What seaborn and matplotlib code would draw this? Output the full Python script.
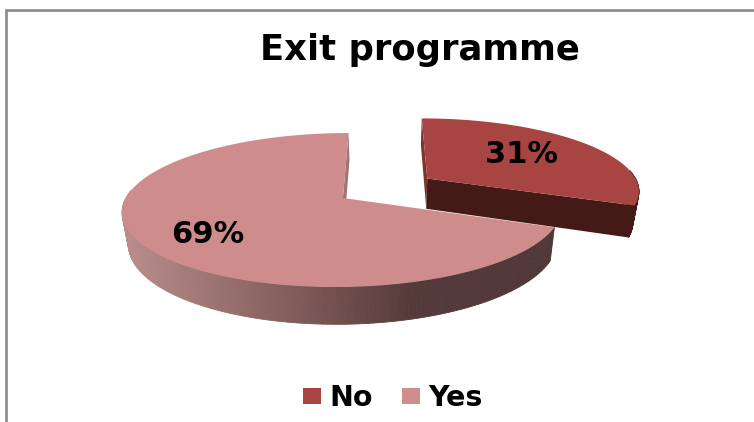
import numpy as np
import matplotlib
matplotlib.use("Agg")
import matplotlib.pyplot as plt
from matplotlib.path import Path
from matplotlib.transforms import Transform
import seaborn as sns

title = "Exit programme"
categories = ["No", "Yes"]
shares = [31, 69]
top_colors = ["#A84442", "#CE8D8C"]
no_wall_color = "#431A16"
no_side_color = "#7A3432"
yes_side_color = "#A07472"
yes_wall_ramp = ["#B98E8C", "#8A6361", "#553A3A", "#503838"]

# Camera model for the tilted pie
VANISH_X, APEX_Y = 385.0, 198.0
SCALE_X, SCALE_Y = 217.0, 75.1
DEPTH, THICKNESS, BOTTOM_SHRINK = 0.156, 31.5, 0.025


def project(x, y, z=0.0):
    """Map disc coordinates (and height below the top face) to pixels."""
    x, y = np.asarray(x, float), np.asarray(y, float)
    w = 1 + DEPTH * y
    px = VANISH_X + SCALE_X * x / (w * (1 + BOTTOM_SHRINK * z))
    py = APEX_Y - SCALE_Y * y / w + THICKNESS * z / w
    return px, py


class Tilt(Transform):
    input_dims = output_dims = 2

    def transform_non_affine(self, values):
        px, py = project(values[:, 0], values[:, 1])
        return np.column_stack([px, py])

    def transform_path_non_affine(self, path):
        # Flatten the curves first: a projective map does not preserve Beziers
        ts = np.linspace(0, 1, 32)
        points = [segment(ts) for segment, _ in path.iter_bezier()]
        return Path(self.transform_non_affine(np.vstack(points)))


sns.set_theme(style="white")
fig = plt.figure(figsize=(7.54, 4.22), dpi=100)
ax = fig.add_axes([0, 0, 1, 1])

wedges, _, pct_texts = ax.pie(
    shares,
    explode=[0.48, 0],
    colors=sns.color_palette(top_colors),
    startangle=90,
    counterclock=False,
    center=(-0.194, 0),
    autopct="%1.0f%%",
    pctdistance=0.6,
    wedgeprops={"linewidth": 0},
    textprops={"fontsize": 22, "fontweight": "bold", "color": "black"},
)
ax.set_aspect("auto")
ax.set_xlim(0, 754)
ax.set_ylim(422, 0)
ax.axis("off")

tilt = Tilt() + ax.transData
for wedge in wedges:
    wedge.set_transform(tilt)
for text in pct_texts:
    text.set_transform(tilt)
pct_texts[0].set_position((0.69, 0.63))
pct_texts[1].set_position((-0.76, -0.457))


def rim(wedge, theta, z):
    x = wedge.center[0] + wedge.r * np.cos(np.radians(theta))
    y = wedge.center[1] + wedge.r * np.sin(np.radians(theta))
    return project(x, y, z)


def draw_rim(wedge, colors, zorder):
    thetas = np.linspace(wedge.theta1, wedge.theta2, 241)
    # Only the part of the rim that faces the viewer is drawn
    thetas = thetas[np.sin(np.radians(thetas)) < 0.12]
    for i in range(len(thetas) - 1):
        pair = thetas[i:i + 2]
        tx, ty = rim(wedge, pair, 0)
        bx, by = rim(wedge, pair[::-1], 1)
        ax.fill(np.r_[tx, bx], np.r_[ty, by], color=colors(tx[0]), lw=0.6, zorder=zorder)


def draw_cut(wedge, theta, color, zorder):
    cx, cy = wedge.center
    ox = cx + wedge.r * np.cos(np.radians(theta))
    oy = cy + wedge.r * np.sin(np.radians(theta))
    tx, ty = project([cx, ox], [cy, oy], 0)
    bx, by = project([ox, cx], [oy, cy], 1)
    ax.fill(np.r_[tx, bx], np.r_[ty, by], color=color, lw=0, zorder=zorder)


no_wedge, yes_wedge = wedges

# Yes slice: shaded rim, then the notch face, then the top surface
ramp = sns.blend_palette(yes_wall_ramp, n_colors=256)
x_lo, x_hi = 121.0, 553.0


def ramp_color(px):
    return ramp[int(np.clip((px - x_lo) / (x_hi - x_lo), 0, 1) * 255)]


draw_rim(yes_wedge, ramp_color, 1)
yes_cut = min(yes_wedge.theta1, yes_wedge.theta2, key=lambda a: abs(a % 360 - 90))
draw_cut(yes_wedge, yes_cut, yes_side_color, 1.5)
yes_wedge.set_zorder(2)

# No slice: dark faces, then the top surface
draw_rim(no_wedge, lambda px: no_wall_color, 3)
cut_angles = sorted([no_wedge.theta1, no_wedge.theta2], key=lambda a: abs(a % 360 - 90))
draw_cut(no_wedge, cut_angles[0], no_side_color, 3)
draw_cut(no_wedge, cut_angles[1], no_wall_color, 3.5)
no_wedge.set_zorder(4)

for text in pct_texts:
    text.set_zorder(6)

# Chart frame along the top and left edges
frame = "#8A8A8A"
ax.plot([6, 6, 754], [422, 10, 10], color=frame, lw=1.9, solid_joinstyle="miter",
        solid_capstyle="butt", zorder=0)

ax.text(420, 50, title, ha="center", va="center", fontsize=25.5, fontweight="bold",
        color="black")

ax.legend(
    wedges,
    categories,
    loc="center",
    bbox_to_anchor=(393 / 754, 1 - 398 / 422),
    bbox_transform=fig.transFigure,
    ncol=2,
    frameon=False,
    prop={"size": 20.5, "weight": "bold"},
    handlelength=0.64,
    handleheight=0.45,
    handletextpad=0.3,
    columnspacing=1.0,
    labelcolor="black",
)

fig.savefig("out.png", dpi=100, facecolor="white")
